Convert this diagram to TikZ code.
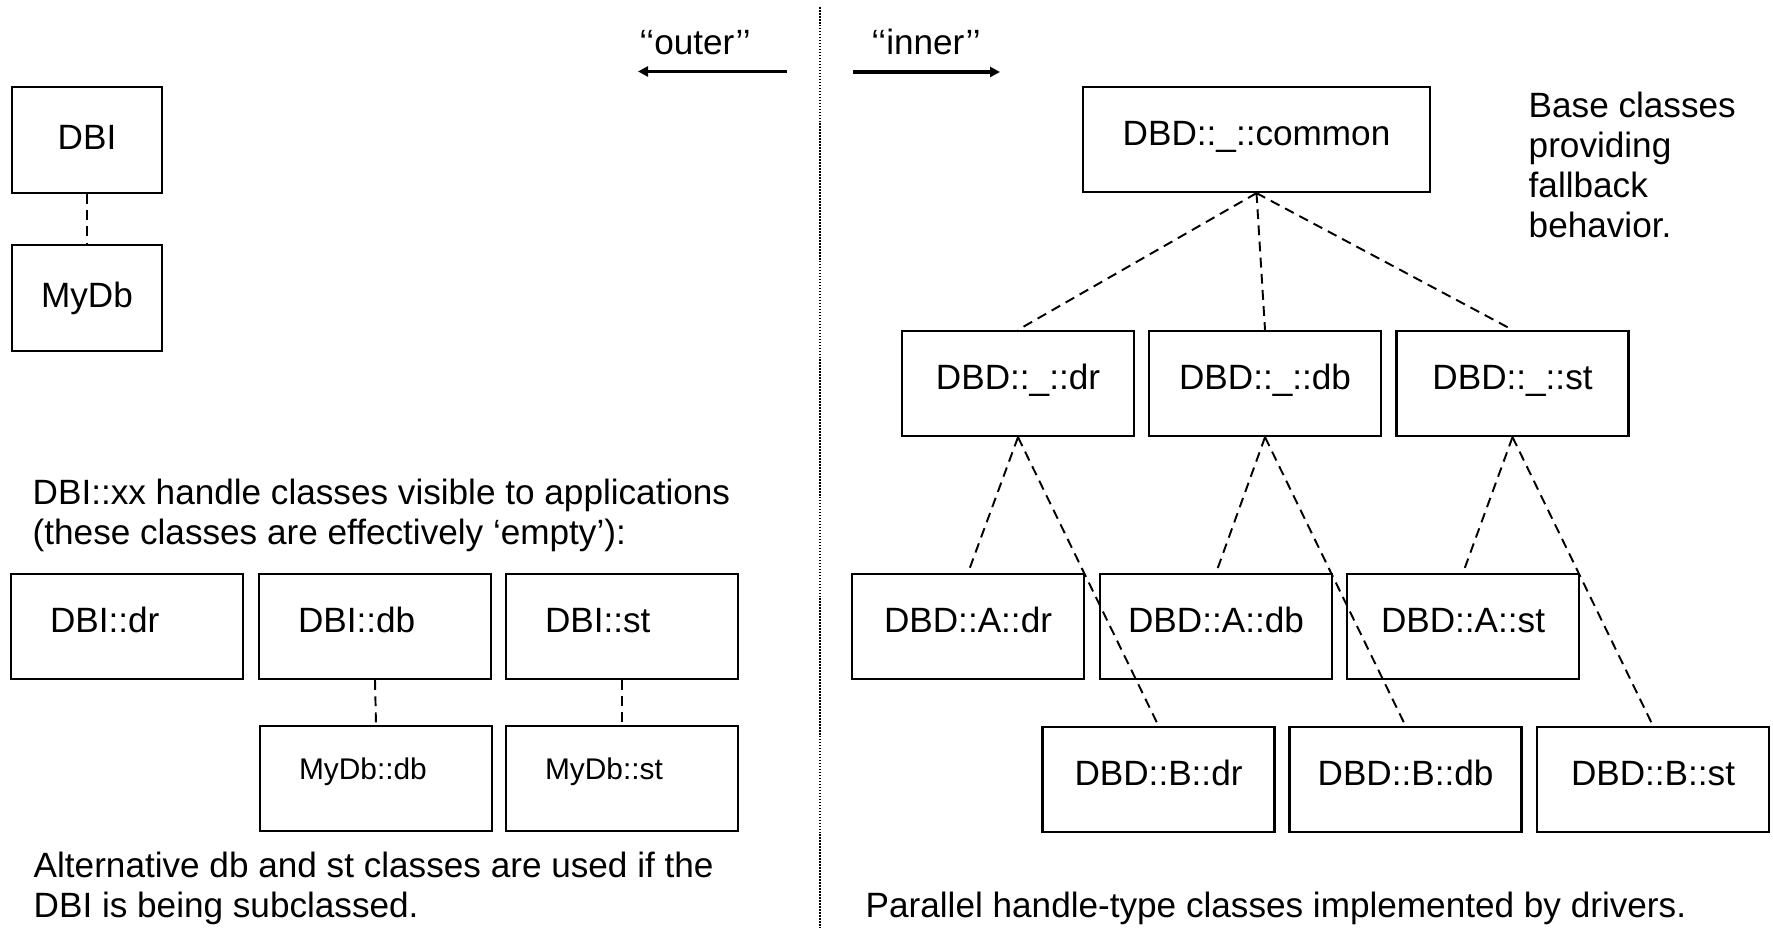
\documentclass[tikz,border=0pt]{standalone}
\usepackage{fontspec}
\setmainfont{Liberation Sans}
\usetikzlibrary{arrows.meta}

\begin{document}
\begin{tikzpicture}[x=1cm, y=-1cm, font=\fontsize{10pt}{11.4pt}\selectfont]
    \tikzstyle{box} = [rectangle, draw, line width=0.65pt, inner sep=0pt,
                       minimum width=2.32cm, minimum height=1.05cm,
                       text height=0.25cm, text depth=0.12cm]
    \tikzstyle{widebox} = [box, minimum width=3.47cm]
    \tikzstyle{smallbox} = [box, minimum width=1.5cm, minimum height=1.06cm, text depth=0.05cm]
    \tikzstyle{leftbox} = [box, text width=1.54cm, inner xsep=0.39cm, align=left]
    \tikzstyle{subbox} = [leftbox, font=\fontsize{8.5pt}{10pt}\selectfont,
                          text height=0.21cm, text depth=0.19cm]
    \tikzstyle{link} = [dash pattern=on 2.8pt off 1.8pt, line width=0.55pt]
    \tikzstyle{arr} = [-{Triangle[length=0.1cm, width=0.1cm]}, line width=1.1pt]
    \tikzstyle{note} = [align=left, inner sep=0pt]

    \useasboundingbox (0,0) rectangle (17.73,9.28);

    %% ── Divider and direction arrows ───────────────────────────────────────
    \coordinate (divtop) at (8.20,0.07);
    \coordinate (divbot) at (8.20,9.28);
    \draw[dash pattern=on 0.45pt off 0.4pt, line width=0.5pt] (divtop) -- (divbot);

    \coordinate (outerfrom) at (7.87,0.715);
    \coordinate (outerto)   at (6.38,0.715);
    \coordinate (innerfrom) at (8.53,0.72);
    \coordinate (innerto)   at (10.00,0.72);
    \draw[arr] (outerfrom) -- (outerto);
    \draw[arr] (innerfrom) -- (innerto);
    \node[anchor=base, inner sep=0pt] at (6.95,0.55) (outerlbl) {‘‘outer’’};
    \node[anchor=base, inner sep=0pt] at (9.26,0.55) (innerlbl) {‘‘inner’’};

    %% ── Left: application side ─────────────────────────────────────────────
    \node[smallbox] at (0.87,1.40) (dbi)  {DBI};
    \node[smallbox] at (0.87,2.98) (mydb) {MyDb};
    \draw[link] (dbi.south) -- (mydb.north);

    %% (base anchor of a multi-line note = baseline of its last line)
    \node[note, anchor=base west] at (0.32,5.45) (visible)
      {DBI::xx handle classes visible to applications\\(these classes are effectively ‘empty’):};

    \node[leftbox] at (1.27,6.265) (dbidr) {DBI::dr};
    \node[leftbox] at (3.75,6.265) (dbidb) {DBI::db};
    \node[leftbox] at (6.22,6.265) (dbist) {DBI::st};

    \node[subbox] at (3.76,7.785) (mydbdb) {MyDb::db};
    \node[subbox] at (6.22,7.785) (mydbst) {MyDb::st};
    \draw[link] (dbidb.south) -- (mydbdb.north);
    \draw[link] (dbist.south) -- (mydbst.north);

    \node[note, anchor=base west] at (0.33,9.18) (alternative)
      {Alternative db and st classes are used if the\\DBI is being subclassed.};

    %% ── Right: driver side ─────────────────────────────────────────────────
    \node[widebox] at (12.565,1.395) (common) {DBD::\_::common};
    \node[note, anchor=base west] at (15.28,2.38) (base)
      {Base classes\\providing\\fallback\\behavior.};

    \node[box] at (10.18,3.835)  (udr) {DBD::\_::dr};
    \node[box] at (12.65,3.835)  (udb) {DBD::\_::db};
    \node[box] at (15.125,3.835) (ust) {DBD::\_::st};

    \node[box] at (9.68,6.265)  (adr) {DBD::A::dr};
    \node[box] at (12.16,6.265) (adb) {DBD::A::db};
    \node[box] at (14.63,6.265) (ast) {DBD::A::st};

    \node[box] at (11.585,7.795) (bdr) {DBD::B::dr};
    \node[box] at (14.055,7.795) (bdb) {DBD::B::db};
    \node[box] at (16.53,7.795)  (bst) {DBD::B::st};

    %% common -> base handle types
    \foreach \kid in {udr, udb, ust}
      \draw[link] (common.south) -- (\kid.north);

    %% base handle types -> driver A and driver B
    \foreach \base/\drv in {udr/adr, udr/bdr, udb/adb, udb/bdb, ust/ast, ust/bst}
      \draw[link] (\base.south) -- (\drv.north);

    \node[note, anchor=base west] at (8.65,9.18) (parallel)
      {Parallel handle-type classes implemented by drivers.};
\end{tikzpicture}
\end{document}
